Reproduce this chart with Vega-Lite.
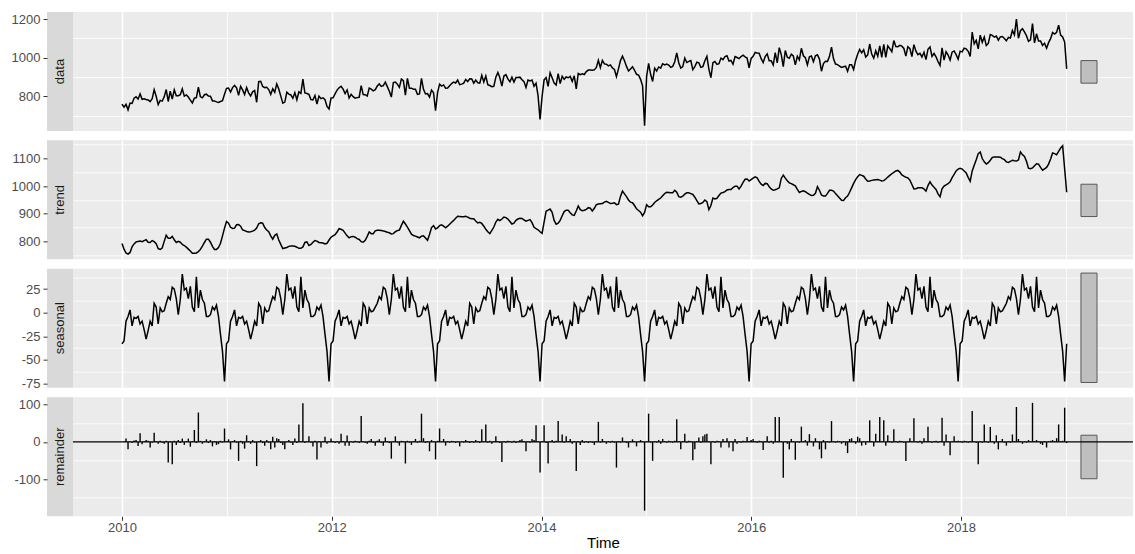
{
"$schema": "https://vega.github.io/schema/vega-lite/v6.json",
"background": "white",
"padding": {"left": 11, "top": 12, "right": 0, "bottom": 0},
"config": {"font": "Liberation Sans", "view": {"stroke": null}},
"spacing": 6.3,
"datasets": {
"bars": [
{"panel":"data","xmin":477.1,"xmax":485.1,"ymin":868,"ymax":985},
{"panel":"trend","xmin":477.1,"xmax":485.1,"ymin":890,"ymax":1007},
{"panel":"seasonal","xmin":477.1,"xmax":485.1,"ymin":-74,"ymax":42},
{"panel":"remainder","xmin":477.1,"xmax":485.1,"ymin":-99,"ymax":18}
],
"stl": [
{"week":0,"data":759,"trend":792,"seasonal":-33,"remainder":0},
{"week":1,"data":743,"trend":772,"seasonal":-30,"remainder":1},
{"week":2,"data":758,"trend":758,"seasonal":-9,"remainder":9},
{"week":3,"data":730,"trend":754,"seasonal":-4,"remainder":-20},
{"week":4,"data":765,"trend":760,"seasonal":3,"remainder":2},
{"week":5,"data":763,"trend":780,"seasonal":-14,"remainder":-3},
{"week":6,"data":790,"trend":791,"seasonal":-5,"remainder":4},
{"week":7,"data":797,"trend":798,"seasonal":-6,"remainder":5},
{"week":8,"data":785,"trend":800,"seasonal":-4,"remainder":-11},
{"week":9,"data":812,"trend":801,"seasonal":-12,"remainder":23},
{"week":10,"data":784,"trend":799,"seasonal":-9,"remainder":-6},
{"week":11,"data":787,"trend":803,"seasonal":-18,"remainder":2},
{"week":12,"data":783,"trend":806,"seasonal":-28,"remainder":5},
{"week":13,"data":781,"trend":797,"seasonal":-19,"remainder":3},
{"week":14,"data":772,"trend":796,"seasonal":-9,"remainder":-15},
{"week":15,"data":787,"trend":803,"seasonal":-14,"remainder":-2},
{"week":16,"data":834,"trend":799,"seasonal":10,"remainder":25},
{"week":17,"data":800,"trend":792,"seasonal":6,"remainder":2},
{"week":18,"data":757,"trend":774,"seasonal":-12,"remainder":-5},
{"week":19,"data":779,"trend":771,"seasonal":5,"remainder":3},
{"week":20,"data":775,"trend":776,"seasonal":1,"remainder":-2},
{"week":21,"data":797,"trend":800,"seasonal":2,"remainder":-5},
{"week":22,"data":835,"trend":822,"seasonal":10,"remainder":3},
{"week":23,"data":773,"trend":811,"seasonal":17,"remainder":-55},
{"week":24,"data":827,"trend":811,"seasonal":14,"remainder":2},
{"week":25,"data":785,"trend":818,"seasonal":27,"remainder":-60},
{"week":26,"data":834,"trend":806,"seasonal":25,"remainder":3},
{"week":27,"data":803,"trend":796,"seasonal":15,"remainder":-8},
{"week":28,"data":803,"trend":800,"seasonal":-2,"remainder":5},
{"week":29,"data":808,"trend":797,"seasonal":14,"remainder":-3},
{"week":30,"data":839,"trend":789,"seasonal":41,"remainder":9},
{"week":31,"data":801,"trend":785,"seasonal":24,"remainder":-8},
{"week":32,"data":807,"trend":779,"seasonal":26,"remainder":2},
{"week":33,"data":796,"trend":772,"seasonal":15,"remainder":9},
{"week":34,"data":780,"trend":765,"seasonal":28,"remainder":-13},
{"week":35,"data":765,"trend":757,"seasonal":6,"remainder":2},
{"week":36,"data":790,"trend":757,"seasonal":1,"remainder":32},
{"week":37,"data":793,"trend":758,"seasonal":38,"remainder":-3},
{"week":38,"data":847,"trend":763,"seasonal":5,"remainder":79},
{"week":39,"data":798,"trend":771,"seasonal":24,"remainder":3},
{"week":40,"data":792,"trend":783,"seasonal":14,"remainder":-5},
{"week":41,"data":808,"trend":796,"seasonal":10,"remainder":2},
{"week":42,"data":811,"trend":808,"seasonal":-4,"remainder":7},
{"week":43,"data":801,"trend":808,"seasonal":-4,"remainder":-3},
{"week":44,"data":800,"trend":797,"seasonal":-2,"remainder":5},
{"week":45,"data":776,"trend":782,"seasonal":6,"remainder":-12},
{"week":46,"data":776,"trend":771,"seasonal":3,"remainder":2},
{"week":47,"data":771,"trend":771,"seasonal":8,"remainder":-8},
{"week":48,"data":768,"trend":778,"seasonal":-4,"remainder":-6},
{"week":49,"data":773,"trend":793,"seasonal":-23,"remainder":3},
{"week":50,"data":777,"trend":820,"seasonal":-41,"remainder":-2},
{"week":51,"data":811,"trend":848,"seasonal":-73,"remainder":36},
{"week":52,"data":841,"trend":872,"seasonal":-33,"remainder":2},
{"week":53,"data":843,"trend":866,"seasonal":-30,"remainder":7},
{"week":54,"data":822,"trend":851,"seasonal":-9,"remainder":-20},
{"week":55,"data":845,"trend":847,"seasonal":-4,"remainder":2},
{"week":56,"data":856,"trend":848,"seasonal":3,"remainder":5},
{"week":57,"data":844,"trend":860,"seasonal":-14,"remainder":-2},
{"week":58,"data":805,"trend":861,"seasonal":-5,"remainder":-51},
{"week":59,"data":852,"trend":855,"seasonal":-6,"remainder":3},
{"week":60,"data":833,"trend":842,"seasonal":-4,"remainder":-5},
{"week":61,"data":809,"trend":839,"seasonal":-12,"remainder":-18},
{"week":62,"data":845,"trend":836,"seasonal":-9,"remainder":18},
{"week":63,"data":818,"trend":834,"seasonal":-18,"remainder":2},
{"week":64,"data":802,"trend":835,"seasonal":-28,"remainder":-5},
{"week":65,"data":823,"trend":837,"seasonal":-19,"remainder":5},
{"week":66,"data":830,"trend":841,"seasonal":-9,"remainder":-2},
{"week":67,"data":769,"trend":848,"seasonal":-14,"remainder":-65},
{"week":68,"data":876,"trend":864,"seasonal":10,"remainder":2},
{"week":69,"data":878,"trend":867,"seasonal":6,"remainder":5},
{"week":70,"data":851,"trend":866,"seasonal":-12,"remainder":-3},
{"week":71,"data":845,"trend":850,"seasonal":5,"remainder":-10},
{"week":72,"data":847,"trend":841,"seasonal":1,"remainder":5},
{"week":73,"data":835,"trend":835,"seasonal":2,"remainder":-2},
{"week":74,"data":810,"trend":820,"seasonal":10,"remainder":-20},
{"week":75,"data":839,"trend":808,"seasonal":17,"remainder":14},
{"week":76,"data":821,"trend":822,"seasonal":14,"remainder":-15},
{"week":77,"data":864,"trend":827,"seasonal":27,"remainder":10},
{"week":78,"data":838,"trend":805,"seasonal":25,"remainder":8},
{"week":79,"data":801,"trend":789,"seasonal":15,"remainder":-3},
{"week":80,"data":764,"trend":774,"seasonal":-2,"remainder":-8},
{"week":81,"data":770,"trend":776,"seasonal":14,"remainder":-20},
{"week":82,"data":821,"trend":778,"seasonal":41,"remainder":2},
{"week":83,"data":811,"trend":782,"seasonal":24,"remainder":5},
{"week":84,"data":807,"trend":783,"seasonal":26,"remainder":-2},
{"week":85,"data":790,"trend":783,"seasonal":15,"remainder":-8},
{"week":86,"data":819,"trend":782,"seasonal":28,"remainder":9},
{"week":87,"data":782,"trend":779,"seasonal":6,"remainder":-3},
{"week":88,"data":823,"trend":775,"seasonal":1,"remainder":47},
{"week":89,"data":815,"trend":775,"seasonal":38,"remainder":2},
{"week":90,"data":889,"trend":780,"seasonal":5,"remainder":104},
{"week":91,"data":817,"trend":796,"seasonal":24,"remainder":-3},
{"week":92,"data":814,"trend":798,"seasonal":14,"remainder":2},
{"week":93,"data":810,"trend":785,"seasonal":10,"remainder":15},
{"week":94,"data":783,"trend":789,"seasonal":-4,"remainder":-2},
{"week":95,"data":781,"trend":797,"seasonal":-4,"remainder":-12},
{"week":96,"data":804,"trend":803,"seasonal":-2,"remainder":3},
{"week":97,"data":760,"trend":801,"seasonal":6,"remainder":-47},
{"week":98,"data":801,"trend":796,"seasonal":3,"remainder":2},
{"week":99,"data":788,"trend":795,"seasonal":8,"remainder":-15},
{"week":100,"data":792,"trend":794,"seasonal":-4,"remainder":2},
{"week":101,"data":782,"trend":791,"seasonal":-23,"remainder":14},
{"week":102,"data":747,"trend":793,"seasonal":-41,"remainder":-5},
{"week":103,"data":734,"trend":805,"seasonal":-73,"remainder":2},
{"week":104,"data":791,"trend":815,"seasonal":-33,"remainder":9},
{"week":105,"data":792,"trend":820,"seasonal":-30,"remainder":2},
{"week":106,"data":812,"trend":824,"seasonal":-9,"remainder":-3},
{"week":107,"data":832,"trend":834,"seasonal":-4,"remainder":2},
{"week":108,"data":844,"trend":846,"seasonal":3,"remainder":-5},
{"week":109,"data":852,"trend":844,"seasonal":-14,"remainder":22},
{"week":110,"data":837,"trend":840,"seasonal":-5,"remainder":2},
{"week":111,"data":814,"trend":830,"seasonal":-6,"remainder":-10},
{"week":112,"data":833,"trend":820,"seasonal":-4,"remainder":17},
{"week":113,"data":791,"trend":813,"seasonal":-12,"remainder":-10},
{"week":114,"data":810,"trend":817,"seasonal":-9,"remainder":2},
{"week":115,"data":798,"trend":818,"seasonal":-18,"remainder":-2},
{"week":116,"data":790,"trend":815,"seasonal":-28,"remainder":3},
{"week":117,"data":793,"trend":810,"seasonal":-19,"remainder":2},
{"week":118,"data":795,"trend":807,"seasonal":-9,"remainder":-3},
{"week":119,"data":855,"trend":799,"seasonal":-14,"remainder":70},
{"week":120,"data":809,"trend":797,"seasonal":10,"remainder":2},
{"week":121,"data":808,"trend":804,"seasonal":6,"remainder":-2},
{"week":122,"data":801,"trend":818,"seasonal":-12,"remainder":-5},
{"week":123,"data":842,"trend":834,"seasonal":5,"remainder":3},
{"week":124,"data":837,"trend":828,"seasonal":1,"remainder":8},
{"week":125,"data":828,"trend":828,"seasonal":2,"remainder":-2},
{"week":126,"data":834,"trend":838,"seasonal":6,"remainder":-10},
{"week":127,"data":853,"trend":840,"seasonal":10,"remainder":3},
{"week":128,"data":864,"trend":840,"seasonal":17,"remainder":7},
{"week":129,"data":851,"trend":839,"seasonal":14,"remainder":-2},
{"week":130,"data":855,"trend":838,"seasonal":27,"remainder":-10},
{"week":131,"data":873,"trend":836,"seasonal":25,"remainder":12},
{"week":132,"data":850,"trend":833,"seasonal":15,"remainder":2},
{"week":133,"data":826,"trend":831,"seasonal":-2,"remainder":-3},
{"week":134,"data":796,"trend":827,"seasonal":14,"remainder":-45},
{"week":135,"data":871,"trend":828,"seasonal":41,"remainder":2},
{"week":136,"data":874,"trend":835,"seasonal":24,"remainder":15},
{"week":137,"data":863,"trend":839,"seasonal":26,"remainder":-2},
{"week":138,"data":846,"trend":841,"seasonal":15,"remainder":-10},
{"week":139,"data":889,"trend":858,"seasonal":28,"remainder":3},
{"week":140,"data":881,"trend":873,"seasonal":6,"remainder":2},
{"week":141,"data":806,"trend":863,"seasonal":1,"remainder":-58},
{"week":142,"data":893,"trend":852,"seasonal":38,"remainder":3},
{"week":143,"data":842,"trend":839,"seasonal":5,"remainder":-2},
{"week":144,"data":842,"trend":826,"seasonal":24,"remainder":-8},
{"week":145,"data":837,"trend":821,"seasonal":14,"remainder":2},
{"week":146,"data":837,"trend":819,"seasonal":10,"remainder":8},
{"week":147,"data":810,"trend":816,"seasonal":-4,"remainder":-2},
{"week":148,"data":812,"trend":813,"seasonal":-4,"remainder":3},
{"week":149,"data":893,"trend":819,"seasonal":-2,"remainder":76},
{"week":150,"data":836,"trend":820,"seasonal":6,"remainder":10},
{"week":151,"data":812,"trend":812,"seasonal":3,"remainder":-3},
{"week":152,"data":814,"trend":804,"seasonal":8,"remainder":2},
{"week":153,"data":796,"trend":825,"seasonal":-4,"remainder":-25},
{"week":154,"data":832,"trend":850,"seasonal":-23,"remainder":5},
{"week":155,"data":818,"trend":857,"seasonal":-41,"remainder":2},
{"week":156,"data":725,"trend":845,"seasonal":-73,"remainder":-47},
{"week":157,"data":819,"trend":849,"seasonal":-33,"remainder":3},
{"week":158,"data":863,"trend":857,"seasonal":-30,"remainder":36},
{"week":159,"data":853,"trend":860,"seasonal":-9,"remainder":2},
{"week":160,"data":859,"trend":855,"seasonal":-4,"remainder":8},
{"week":161,"data":842,"trend":849,"seasonal":3,"remainder":-10},
{"week":162,"data":843,"trend":855,"seasonal":-14,"remainder":2},
{"week":163,"data":855,"trend":862,"seasonal":-5,"remainder":-2},
{"week":164,"data":866,"trend":869,"seasonal":-6,"remainder":3},
{"week":165,"data":874,"trend":876,"seasonal":-4,"remainder":2},
{"week":166,"data":869,"trend":884,"seasonal":-12,"remainder":-3},
{"week":167,"data":884,"trend":891,"seasonal":-9,"remainder":2},
{"week":168,"data":860,"trend":890,"seasonal":-18,"remainder":-12},
{"week":169,"data":863,"trend":889,"seasonal":-28,"remainder":2},
{"week":170,"data":868,"trend":889,"seasonal":-19,"remainder":-2},
{"week":171,"data":887,"trend":891,"seasonal":-9,"remainder":5},
{"week":172,"data":876,"trend":888,"seasonal":-14,"remainder":2},
{"week":173,"data":891,"trend":884,"seasonal":10,"remainder":-3},
{"week":174,"data":890,"trend":882,"seasonal":6,"remainder":2},
{"week":175,"data":868,"trend":882,"seasonal":-12,"remainder":-2},
{"week":176,"data":884,"trend":874,"seasonal":5,"remainder":5},
{"week":177,"data":870,"trend":867,"seasonal":1,"remainder":2},
{"week":178,"data":868,"trend":869,"seasonal":2,"remainder":-3},
{"week":179,"data":909,"trend":865,"seasonal":10,"remainder":34},
{"week":180,"data":874,"trend":855,"seasonal":17,"remainder":2},
{"week":181,"data":905,"trend":844,"seasonal":14,"remainder":47},
{"week":182,"data":860,"trend":835,"seasonal":27,"remainder":-2},
{"week":183,"data":856,"trend":828,"seasonal":25,"remainder":3},
{"week":184,"data":850,"trend":840,"seasonal":15,"remainder":-5},
{"week":185,"data":852,"trend":852,"seasonal":-2,"remainder":2},
{"week":186,"data":899,"trend":870,"seasonal":14,"remainder":15},
{"week":187,"data":923,"trend":880,"seasonal":41,"remainder":2},
{"week":188,"data":896,"trend":875,"seasonal":24,"remainder":-3},
{"week":189,"data":853,"trend":881,"seasonal":26,"remainder":-54},
{"week":190,"data":905,"trend":888,"seasonal":15,"remainder":2},
{"week":191,"data":912,"trend":886,"seasonal":28,"remainder":-2},
{"week":192,"data":890,"trend":881,"seasonal":6,"remainder":3},
{"week":193,"data":875,"trend":872,"seasonal":1,"remainder":2},
{"week":194,"data":899,"trend":863,"seasonal":38,"remainder":-2},
{"week":195,"data":874,"trend":866,"seasonal":5,"remainder":3},
{"week":196,"data":897,"trend":876,"seasonal":24,"remainder":-3},
{"week":197,"data":897,"trend":881,"seasonal":14,"remainder":2},
{"week":198,"data":899,"trend":884,"seasonal":10,"remainder":5},
{"week":199,"data":886,"trend":883,"seasonal":-4,"remainder":7},
{"week":200,"data":876,"trend":878,"seasonal":-4,"remainder":2},
{"week":201,"data":846,"trend":873,"seasonal":-2,"remainder":-25},
{"week":202,"data":884,"trend":876,"seasonal":6,"remainder":2},
{"week":203,"data":880,"trend":879,"seasonal":3,"remainder":-2},
{"week":204,"data":884,"trend":868,"seasonal":8,"remainder":8},
{"week":205,"data":852,"trend":851,"seasonal":-4,"remainder":5},
{"week":206,"data":868,"trend":846,"seasonal":-23,"remainder":45},
{"week":207,"data":803,"trend":842,"seasonal":-41,"remainder":2},
{"week":208,"data":680,"trend":835,"seasonal":-73,"remainder":-82},
{"week":209,"data":798,"trend":829,"seasonal":-33,"remainder":2},
{"week":210,"data":885,"trend":870,"seasonal":-30,"remainder":45},
{"week":211,"data":897,"trend":909,"seasonal":-9,"remainder":-3},
{"week":212,"data":851,"trend":913,"seasonal":-4,"remainder":-58},
{"week":213,"data":922,"trend":917,"seasonal":3,"remainder":2},
{"week":214,"data":896,"trend":905,"seasonal":-14,"remainder":5},
{"week":215,"data":869,"trend":876,"seasonal":-5,"remainder":-2},
{"week":216,"data":859,"trend":862,"seasonal":-6,"remainder":3},
{"week":217,"data":918,"trend":866,"seasonal":-4,"remainder":56},
{"week":218,"data":866,"trend":876,"seasonal":-12,"remainder":2},
{"week":219,"data":904,"trend":893,"seasonal":-9,"remainder":20},
{"week":220,"data":888,"trend":908,"seasonal":-18,"remainder":-2},
{"week":221,"data":900,"trend":913,"seasonal":-28,"remainder":15},
{"week":222,"data":896,"trend":913,"seasonal":-19,"remainder":2},
{"week":223,"data":903,"trend":904,"seasonal":-9,"remainder":8},
{"week":224,"data":877,"trend":896,"seasonal":-14,"remainder":-5},
{"week":225,"data":906,"trend":894,"seasonal":10,"remainder":2},
{"week":226,"data":838,"trend":910,"seasonal":6,"remainder":-78},
{"week":227,"data":918,"trend":928,"seasonal":-12,"remainder":2},
{"week":228,"data":912,"trend":915,"seasonal":5,"remainder":-8},
{"week":229,"data":917,"trend":911,"seasonal":1,"remainder":5},
{"week":230,"data":913,"trend":913,"seasonal":2,"remainder":-2},
{"week":231,"data":928,"trend":916,"seasonal":10,"remainder":2},
{"week":232,"data":936,"trend":922,"seasonal":17,"remainder":-3},
{"week":233,"data":936,"trend":920,"seasonal":14,"remainder":2},
{"week":234,"data":935,"trend":910,"seasonal":27,"remainder":-2},
{"week":235,"data":937,"trend":920,"seasonal":25,"remainder":-8},
{"week":236,"data":950,"trend":933,"seasonal":15,"remainder":2},
{"week":237,"data":987,"trend":935,"seasonal":-2,"remainder":54},
{"week":238,"data":948,"trend":936,"seasonal":14,"remainder":-2},
{"week":239,"data":986,"trend":937,"seasonal":41,"remainder":8},
{"week":240,"data":968,"trend":942,"seasonal":24,"remainder":2},
{"week":241,"data":966,"trend":945,"seasonal":26,"remainder":-5},
{"week":242,"data":958,"trend":941,"seasonal":15,"remainder":2},
{"week":243,"data":963,"trend":937,"seasonal":28,"remainder":-2},
{"week":244,"data":947,"trend":938,"seasonal":6,"remainder":3},
{"week":245,"data":939,"trend":940,"seasonal":1,"remainder":-2},
{"week":246,"data":902,"trend":933,"seasonal":38,"remainder":-69},
{"week":247,"data":942,"trend":935,"seasonal":5,"remainder":2},
{"week":248,"data":985,"trend":963,"seasonal":24,"remainder":-2},
{"week":249,"data":1008,"trend":982,"seasonal":14,"remainder":12},
{"week":250,"data":984,"trend":972,"seasonal":10,"remainder":2},
{"week":251,"data":955,"trend":962,"seasonal":-4,"remainder":-3},
{"week":252,"data":931,"trend":950,"seasonal":-4,"remainder":-15},
{"week":253,"data":942,"trend":942,"seasonal":-2,"remainder":2},
{"week":254,"data":953,"trend":940,"seasonal":6,"remainder":7},
{"week":255,"data":935,"trend":930,"seasonal":3,"remainder":2},
{"week":256,"data":914,"trend":918,"seasonal":8,"remainder":-12},
{"week":257,"data":910,"trend":912,"seasonal":-4,"remainder":2},
{"week":258,"data":888,"trend":906,"seasonal":-23,"remainder":5},
{"week":259,"data":854,"trend":893,"seasonal":-41,"remainder":2},
{"week":260,"data":647,"trend":905,"seasonal":-73,"remainder":-185},
{"week":261,"data":902,"trend":933,"seasonal":-33,"remainder":2},
{"week":262,"data":971,"trend":925,"seasonal":-30,"remainder":76},
{"week":263,"data":914,"trend":925,"seasonal":-9,"remainder":-2},
{"week":264,"data":877,"trend":932,"seasonal":-4,"remainder":-51},
{"week":265,"data":946,"trend":941,"seasonal":3,"remainder":2},
{"week":266,"data":931,"trend":947,"seasonal":-14,"remainder":-2},
{"week":267,"data":952,"trend":952,"seasonal":-5,"remainder":5},
{"week":268,"data":946,"trend":957,"seasonal":-6,"remainder":-5},
{"week":269,"data":969,"trend":965,"seasonal":-4,"remainder":8},
{"week":270,"data":963,"trend":973,"seasonal":-12,"remainder":2},
{"week":271,"data":967,"trend":978,"seasonal":-9,"remainder":-2},
{"week":272,"data":962,"trend":977,"seasonal":-18,"remainder":3},
{"week":273,"data":950,"trend":976,"seasonal":-28,"remainder":2},
{"week":274,"data":955,"trend":976,"seasonal":-19,"remainder":-2},
{"week":275,"data":979,"trend":985,"seasonal":-9,"remainder":3},
{"week":276,"data":1025,"trend":978,"seasonal":-14,"remainder":61},
{"week":277,"data":974,"trend":962,"seasonal":10,"remainder":2},
{"week":278,"data":946,"trend":960,"seasonal":6,"remainder":-20},
{"week":279,"data":954,"trend":964,"seasonal":-12,"remainder":2},
{"week":280,"data":998,"trend":971,"seasonal":5,"remainder":22},
{"week":281,"data":975,"trend":976,"seasonal":1,"remainder":-2},
{"week":282,"data":981,"trend":976,"seasonal":2,"remainder":3},
{"week":283,"data":985,"trend":973,"seasonal":10,"remainder":2},
{"week":284,"data":938,"trend":970,"seasonal":17,"remainder":-49},
{"week":285,"data":954,"trend":960,"seasonal":14,"remainder":-20},
{"week":286,"data":977,"trend":948,"seasonal":27,"remainder":2},
{"week":287,"data":973,"trend":936,"seasonal":25,"remainder":12},
{"week":288,"data":950,"trend":937,"seasonal":15,"remainder":-2},
{"week":289,"data":954,"trend":941,"seasonal":-2,"remainder":15},
{"week":290,"data":984,"trend":950,"seasonal":14,"remainder":20},
{"week":291,"data":1007,"trend":944,"seasonal":41,"remainder":22},
{"week":292,"data":941,"trend":915,"seasonal":24,"remainder":2},
{"week":293,"data":896,"trend":930,"seasonal":26,"remainder":-60},
{"week":294,"data":974,"trend":957,"seasonal":15,"remainder":2},
{"week":295,"data":980,"trend":954,"seasonal":28,"remainder":-2},
{"week":296,"data":965,"trend":956,"seasonal":6,"remainder":3},
{"week":297,"data":969,"trend":966,"seasonal":1,"remainder":2},
{"week":298,"data":998,"trend":975,"seasonal":38,"remainder":-15},
{"week":299,"data":990,"trend":977,"seasonal":5,"remainder":8},
{"week":300,"data":1006,"trend":980,"seasonal":24,"remainder":2},
{"week":301,"data":1010,"trend":986,"seasonal":14,"remainder":10},
{"week":302,"data":983,"trend":988,"seasonal":10,"remainder":-15},
{"week":303,"data":986,"trend":988,"seasonal":-4,"remainder":2},
{"week":304,"data":966,"trend":995,"seasonal":-4,"remainder":-25},
{"week":305,"data":1006,"trend":1000,"seasonal":-2,"remainder":8},
{"week":306,"data":1001,"trend":1000,"seasonal":6,"remainder":-5},
{"week":307,"data":995,"trend":990,"seasonal":3,"remainder":2},
{"week":308,"data":1006,"trend":1000,"seasonal":8,"remainder":-2},
{"week":309,"data":1013,"trend":1014,"seasonal":-4,"remainder":3},
{"week":310,"data":1004,"trend":1025,"seasonal":-23,"remainder":2},
{"week":311,"data":998,"trend":1026,"seasonal":-41,"remainder":13},
{"week":312,"data":948,"trend":1019,"seasonal":-73,"remainder":2},
{"week":313,"data":996,"trend":1024,"seasonal":-33,"remainder":5},
{"week":314,"data":1007,"trend":1029,"seasonal":-30,"remainder":8},
{"week":315,"data":1027,"trend":1034,"seasonal":-9,"remainder":2},
{"week":316,"data":1024,"trend":1030,"seasonal":-4,"remainder":-2},
{"week":317,"data":1023,"trend":1017,"seasonal":3,"remainder":3},
{"week":318,"data":995,"trend":1007,"seasonal":-14,"remainder":2},
{"week":319,"data":975,"trend":1002,"seasonal":-5,"remainder":-22},
{"week":320,"data":1006,"trend":1010,"seasonal":-6,"remainder":2},
{"week":321,"data":1020,"trend":1009,"seasonal":-4,"remainder":15},
{"week":322,"data":984,"trend":998,"seasonal":-12,"remainder":-2},
{"week":323,"data":984,"trend":990,"seasonal":-9,"remainder":3},
{"week":324,"data":962,"trend":985,"seasonal":-18,"remainder":-5},
{"week":325,"data":1026,"trend":987,"seasonal":-28,"remainder":67},
{"week":326,"data":973,"trend":990,"seasonal":-19,"remainder":2},
{"week":327,"data":1052,"trend":994,"seasonal":-9,"remainder":67},
{"week":328,"data":1016,"trend":1028,"seasonal":-14,"remainder":2},
{"week":329,"data":954,"trend":1040,"seasonal":10,"remainder":-96},
{"week":330,"data":1037,"trend":1029,"seasonal":6,"remainder":2},
{"week":331,"data":1003,"trend":1020,"seasonal":-12,"remainder":-5},
{"week":332,"data":997,"trend":1012,"seasonal":5,"remainder":-20},
{"week":333,"data":1018,"trend":1009,"seasonal":1,"remainder":8},
{"week":334,"data":1009,"trend":1005,"seasonal":2,"remainder":2},
{"week":335,"data":963,"trend":1001,"seasonal":10,"remainder":-48},
{"week":336,"data":1007,"trend":988,"seasonal":17,"remainder":2},
{"week":337,"data":989,"trend":977,"seasonal":14,"remainder":-2},
{"week":338,"data":1049,"trend":981,"seasonal":27,"remainder":41},
{"week":339,"data":1010,"trend":983,"seasonal":25,"remainder":2},
{"week":340,"data":1000,"trend":980,"seasonal":15,"remainder":5},
{"week":341,"data":963,"trend":975,"seasonal":-2,"remainder":-10},
{"week":342,"data":1005,"trend":970,"seasonal":14,"remainder":21},
{"week":343,"data":1009,"trend":966,"seasonal":41,"remainder":2},
{"week":344,"data":979,"trend":967,"seasonal":24,"remainder":-12},
{"week":345,"data":1010,"trend":974,"seasonal":26,"remainder":10},
{"week":346,"data":1015,"trend":998,"seasonal":15,"remainder":2},
{"week":347,"data":993,"trend":985,"seasonal":28,"remainder":-20},
{"week":348,"data":930,"trend":968,"seasonal":6,"remainder":-44},
{"week":349,"data":970,"trend":964,"seasonal":1,"remainder":5},
{"week":350,"data":982,"trend":964,"seasonal":38,"remainder":-20},
{"week":351,"data":981,"trend":974,"seasonal":5,"remainder":2},
{"week":352,"data":1007,"trend":985,"seasonal":24,"remainder":-2},
{"week":353,"data":1055,"trend":985,"seasonal":14,"remainder":56},
{"week":354,"data":994,"trend":982,"seasonal":10,"remainder":2},
{"week":355,"data":967,"trend":973,"seasonal":-4,"remainder":-2},
{"week":356,"data":964,"trend":965,"seasonal":-4,"remainder":3},
{"week":357,"data":957,"trend":957,"seasonal":-2,"remainder":2},
{"week":358,"data":950,"trend":949,"seasonal":6,"remainder":-5},
{"week":359,"data":953,"trend":948,"seasonal":3,"remainder":2},
{"week":360,"data":956,"trend":958,"seasonal":8,"remainder":-10},
{"week":361,"data":930,"trend":964,"seasonal":-4,"remainder":-30},
{"week":362,"data":963,"trend":978,"seasonal":-23,"remainder":8},
{"week":363,"data":963,"trend":994,"seasonal":-41,"remainder":10},
{"week":364,"data":939,"trend":1010,"seasonal":-73,"remainder":2},
{"week":365,"data":986,"trend":1024,"seasonal":-33,"remainder":-5},
{"week":366,"data":1018,"trend":1034,"seasonal":-30,"remainder":14},
{"week":367,"data":1043,"trend":1042,"seasonal":-9,"remainder":10},
{"week":368,"data":1025,"trend":1039,"seasonal":-4,"remainder":-10},
{"week":369,"data":1041,"trend":1036,"seasonal":3,"remainder":2},
{"week":370,"data":1004,"trend":1026,"seasonal":-14,"remainder":-8},
{"week":371,"data":1015,"trend":1018,"seasonal":-5,"remainder":2},
{"week":372,"data":1071,"trend":1019,"seasonal":-6,"remainder":58},
{"week":373,"data":1019,"trend":1021,"seasonal":-4,"remainder":2},
{"week":374,"data":998,"trend":1022,"seasonal":-12,"remainder":-12},
{"week":375,"data":1036,"trend":1023,"seasonal":-9,"remainder":22},
{"week":376,"data":1008,"trend":1024,"seasonal":-18,"remainder":2},
{"week":377,"data":1061,"trend":1022,"seasonal":-28,"remainder":67},
{"week":378,"data":1002,"trend":1019,"seasonal":-19,"remainder":2},
{"week":379,"data":1069,"trend":1020,"seasonal":-9,"remainder":58},
{"week":380,"data":1002,"trend":1026,"seasonal":-14,"remainder":-10},
{"week":381,"data":1061,"trend":1033,"seasonal":10,"remainder":18},
{"week":382,"data":1047,"trend":1039,"seasonal":6,"remainder":2},
{"week":383,"data":1031,"trend":1045,"seasonal":-12,"remainder":-2},
{"week":384,"data":1089,"trend":1050,"seasonal":5,"remainder":34},
{"week":385,"data":1058,"trend":1055,"seasonal":1,"remainder":2},
{"week":386,"data":1057,"trend":1057,"seasonal":2,"remainder":-2},
{"week":387,"data":1064,"trend":1051,"seasonal":10,"remainder":3},
{"week":388,"data":1060,"trend":1041,"seasonal":17,"remainder":2},
{"week":389,"data":1048,"trend":1036,"seasonal":14,"remainder":-2},
{"week":390,"data":1008,"trend":1032,"seasonal":27,"remainder":-51},
{"week":391,"data":1057,"trend":1030,"seasonal":25,"remainder":2},
{"week":392,"data":1047,"trend":1022,"seasonal":15,"remainder":10},
{"week":393,"data":1006,"trend":1006,"seasonal":-2,"remainder":2},
{"week":394,"data":1068,"trend":990,"seasonal":14,"remainder":64},
{"week":395,"data":1034,"trend":991,"seasonal":41,"remainder":2},
{"week":396,"data":1016,"trend":994,"seasonal":24,"remainder":-2},
{"week":397,"data":1023,"trend":994,"seasonal":26,"remainder":3},
{"week":398,"data":1004,"trend":994,"seasonal":15,"remainder":-5},
{"week":399,"data":1028,"trend":990,"seasonal":28,"remainder":10},
{"week":400,"data":990,"trend":982,"seasonal":6,"remainder":2},
{"week":401,"data":1044,"trend":1002,"seasonal":1,"remainder":41},
{"week":402,"data":1056,"trend":1016,"seasonal":38,"remainder":2},
{"week":403,"data":1007,"trend":1004,"seasonal":5,"remainder":-2},
{"week":404,"data":1022,"trend":996,"seasonal":24,"remainder":2},
{"week":405,"data":1005,"trend":988,"seasonal":14,"remainder":3},
{"week":406,"data":980,"trend":972,"seasonal":10,"remainder":-2},
{"week":407,"data":960,"trend":962,"seasonal":-4,"remainder":2},
{"week":408,"data":1051,"trend":990,"seasonal":-4,"remainder":65},
{"week":409,"data":988,"trend":1000,"seasonal":-2,"remainder":-10},
{"week":410,"data":1031,"trend":1005,"seasonal":6,"remainder":20},
{"week":411,"data":1014,"trend":1009,"seasonal":3,"remainder":2},
{"week":412,"data":988,"trend":1016,"seasonal":8,"remainder":-36},
{"week":413,"data":1029,"trend":1031,"seasonal":-4,"remainder":2},
{"week":414,"data":1035,"trend":1043,"seasonal":-23,"remainder":15},
{"week":415,"data":1016,"trend":1055,"seasonal":-41,"remainder":2},
{"week":416,"data":992,"trend":1062,"seasonal":-73,"remainder":3},
{"week":417,"data":1034,"trend":1065,"seasonal":-33,"remainder":2},
{"week":418,"data":1030,"trend":1062,"seasonal":-30,"remainder":-2},
{"week":419,"data":1049,"trend":1055,"seasonal":-9,"remainder":3},
{"week":420,"data":1046,"trend":1048,"seasonal":-4,"remainder":2},
{"week":421,"data":1033,"trend":1032,"seasonal":3,"remainder":-2},
{"week":422,"data":1006,"trend":1018,"seasonal":-14,"remainder":2},
{"week":423,"data":1133,"trend":1055,"seasonal":-5,"remainder":83},
{"week":424,"data":1072,"trend":1076,"seasonal":-6,"remainder":2},
{"week":425,"data":1090,"trend":1096,"seasonal":-4,"remainder":-2},
{"week":426,"data":1046,"trend":1118,"seasonal":-12,"remainder":-60},
{"week":427,"data":1117,"trend":1124,"seasonal":-9,"remainder":2},
{"week":428,"data":1080,"trend":1100,"seasonal":-18,"remainder":-2},
{"week":429,"data":1107,"trend":1088,"seasonal":-28,"remainder":47},
{"week":430,"data":1063,"trend":1080,"seasonal":-19,"remainder":2},
{"week":431,"data":1074,"trend":1085,"seasonal":-9,"remainder":-2},
{"week":432,"data":1120,"trend":1094,"seasonal":-14,"remainder":40},
{"week":433,"data":1116,"trend":1104,"seasonal":10,"remainder":2},
{"week":434,"data":1107,"trend":1106,"seasonal":6,"remainder":-5},
{"week":435,"data":1112,"trend":1106,"seasonal":-12,"remainder":18},
{"week":436,"data":1091,"trend":1106,"seasonal":5,"remainder":-20},
{"week":437,"data":1108,"trend":1105,"seasonal":1,"remainder":2},
{"week":438,"data":1110,"trend":1100,"seasonal":2,"remainder":8},
{"week":439,"data":1100,"trend":1096,"seasonal":6,"remainder":-2},
{"week":440,"data":1088,"trend":1088,"seasonal":10,"remainder":-10},
{"week":441,"data":1105,"trend":1086,"seasonal":17,"remainder":2},
{"week":442,"data":1102,"trend":1090,"seasonal":14,"remainder":-2},
{"week":443,"data":1141,"trend":1094,"seasonal":27,"remainder":20},
{"week":444,"data":1119,"trend":1092,"seasonal":25,"remainder":2},
{"week":445,"data":1200,"trend":1091,"seasonal":15,"remainder":94},
{"week":446,"data":1101,"trend":1095,"seasonal":-2,"remainder":8},
{"week":447,"data":1140,"trend":1124,"seasonal":14,"remainder":2},
{"week":448,"data":1150,"trend":1114,"seasonal":41,"remainder":-5},
{"week":449,"data":1134,"trend":1108,"seasonal":24,"remainder":2},
{"week":450,"data":1114,"trend":1090,"seasonal":26,"remainder":-2},
{"week":451,"data":1085,"trend":1065,"seasonal":15,"remainder":5},
{"week":452,"data":1093,"trend":1063,"seasonal":28,"remainder":2},
{"week":453,"data":1177,"trend":1066,"seasonal":6,"remainder":105},
{"week":454,"data":1077,"trend":1074,"seasonal":1,"remainder":2},
{"week":455,"data":1124,"trend":1081,"seasonal":38,"remainder":5},
{"week":456,"data":1087,"trend":1080,"seasonal":5,"remainder":2},
{"week":457,"data":1087,"trend":1068,"seasonal":24,"remainder":-5},
{"week":458,"data":1064,"trend":1058,"seasonal":14,"remainder":-8},
{"week":459,"data":1075,"trend":1063,"seasonal":10,"remainder":2},
{"week":460,"data":1049,"trend":1068,"seasonal":-4,"remainder":-15},
{"week":461,"data":1078,"trend":1080,"seasonal":-4,"remainder":2},
{"week":462,"data":1099,"trend":1098,"seasonal":-2,"remainder":3},
{"week":463,"data":1131,"trend":1120,"seasonal":6,"remainder":5},
{"week":464,"data":1123,"trend":1118,"seasonal":3,"remainder":2},
{"week":465,"data":1132,"trend":1114,"seasonal":8,"remainder":10},
{"week":466,"data":1169,"trend":1126,"seasonal":-4,"remainder":47},
{"week":467,"data":1117,"trend":1138,"seasonal":-23,"remainder":2},
{"week":468,"data":1108,"trend":1146,"seasonal":-41,"remainder":3},
{"week":469,"data":1081,"trend":1062,"seasonal":-73,"remainder":92},
{"week":470,"data":942,"trend":978,"seasonal":-33,"remainder":-3}
]
},
"vconcat": [
{"vconcat": [
{"hconcat": [
 {"width": 26, "height": 119, "view": {"fill": "#D9D9D9", "stroke": null}, "data": {"values": [{"label": "data"}]},
  "mark": {"type": "text", "angle": 270, "fontSize": 13, "color": "#1A1A1A"}, "encoding": {"text": {"field": "label", "type": "nominal"}}},
 {"width": 1060, "height": 119, "view": {"fill": "#EBEBEB", "stroke": null},
  "resolve": {"axis": {"y": "independent"}},
  "layer": [
   {"data": {"name": "bars"}, "transform": [{"filter": "datum.panel == 'data'"}],
    "mark": {"type": "rect", "fill": "#BFBFBF", "stroke": "#595959", "strokeWidth": 1},
    "encoding": {"x": {"field": "xmin", "type": "quantitative"}, "x2": {"field": "xmax"},
     "y": {"field": "ymin", "type": "quantitative", "axis": {"orient": "left", "title": null, "values": [700, 900, 1100], "labels": false, "ticks": false, "domain": false, "gridColor": "#FFFFFF", "gridWidth": 0.8}},
     "y2": {"field": "ymax"}}},
   {"data": {"name": "stl"}, "mark": {"type": "line", "color": "#000000", "strokeWidth": 1.5},
    "encoding": {
     "x": {"field": "week", "type": "quantitative", "scale": {"domain": [-24.38, 503.0], "nice": false, "zero": false},
      "axis": {"title": null, "values": [0, 52.1786, 104.3571, 156.5357, 208.7143, 260.8929, 313.0714, 365.25, 417.4286, 469.6071], "labels": false, "ticks": false, "domain": false, "gridColor": "#FFFFFF", "gridWidth": {"condition": {"test": "round(datum.value / 52.1786) % 2 == 0", "value": 1.6}, "value": 0.8}}},
     "y": {"field": "data", "type": "quantitative", "scale": {"domain": [620, 1237], "nice": false, "zero": false},
      "axis": {"orient": "left", "title": null, "values": [800, 1000, 1200], "labelExpr": "'' + datum.value", "offset": 26, "domain": false, "tickSize": 4, "tickColor": "#333333", "gridColor": "#FFFFFF", "gridWidth": 1.6, "labelFontSize": 13, "labelColor": "#4D4D4D", "labelPadding": 3, "labelOverlap": false, "labelFlush": false}}
    }}
  ]}
 ], "spacing": 0, "bounds": "flush"},
{"hconcat": [
 {"width": 26, "height": 119, "view": {"fill": "#D9D9D9", "stroke": null}, "data": {"values": [{"label": "trend"}]},
  "mark": {"type": "text", "angle": 270, "fontSize": 13, "color": "#1A1A1A"}, "encoding": {"text": {"field": "label", "type": "nominal"}}},
 {"width": 1060, "height": 119, "view": {"fill": "#EBEBEB", "stroke": null},
  "resolve": {"axis": {"y": "independent"}},
  "layer": [
   {"data": {"name": "bars"}, "transform": [{"filter": "datum.panel == 'trend'"}],
    "mark": {"type": "rect", "fill": "#BFBFBF", "stroke": "#595959", "strokeWidth": 1},
    "encoding": {"x": {"field": "xmin", "type": "quantitative"}, "x2": {"field": "xmax"},
     "y": {"field": "ymin", "type": "quantitative", "axis": {"orient": "left", "title": null, "values": [750, 850, 950, 1050, 1150], "labels": false, "ticks": false, "domain": false, "gridColor": "#FFFFFF", "gridWidth": 0.8}},
     "y2": {"field": "ymax"}}},
   {"data": {"name": "stl"}, "mark": {"type": "line", "color": "#000000", "strokeWidth": 1.5},
    "encoding": {
     "x": {"field": "week", "type": "quantitative", "scale": {"domain": [-24.38, 503.0], "nice": false, "zero": false},
      "axis": {"title": null, "values": [0, 52.1786, 104.3571, 156.5357, 208.7143, 260.8929, 313.0714, 365.25, 417.4286, 469.6071], "labels": false, "ticks": false, "domain": false, "gridColor": "#FFFFFF", "gridWidth": {"condition": {"test": "round(datum.value / 52.1786) % 2 == 0", "value": 1.6}, "value": 0.8}}},
     "y": {"field": "trend", "type": "quantitative", "scale": {"domain": [735, 1166], "nice": false, "zero": false},
      "axis": {"orient": "left", "title": null, "values": [800, 900, 1000, 1100], "labelExpr": "'' + datum.value", "offset": 26, "domain": false, "tickSize": 4, "tickColor": "#333333", "gridColor": "#FFFFFF", "gridWidth": 1.6, "labelFontSize": 13, "labelColor": "#4D4D4D", "labelPadding": 3, "labelOverlap": false, "labelFlush": false}}
    }}
  ]}
 ], "spacing": 0, "bounds": "flush"},
{"hconcat": [
 {"width": 26, "height": 119, "view": {"fill": "#D9D9D9", "stroke": null}, "data": {"values": [{"label": "seasonal"}]},
  "mark": {"type": "text", "angle": 270, "fontSize": 13, "color": "#1A1A1A"}, "encoding": {"text": {"field": "label", "type": "nominal"}}},
 {"width": 1060, "height": 119, "view": {"fill": "#EBEBEB", "stroke": null},
  "resolve": {"axis": {"y": "independent"}},
  "layer": [
   {"data": {"name": "bars"}, "transform": [{"filter": "datum.panel == 'seasonal'"}],
    "mark": {"type": "rect", "fill": "#BFBFBF", "stroke": "#595959", "strokeWidth": 1},
    "encoding": {"x": {"field": "xmin", "type": "quantitative"}, "x2": {"field": "xmax"},
     "y": {"field": "ymin", "type": "quantitative", "axis": {"orient": "left", "title": null, "values": [-62.5, -37.5, -12.5, 12.5, 37.5], "labels": false, "ticks": false, "domain": false, "gridColor": "#FFFFFF", "gridWidth": 0.8}},
     "y2": {"field": "ymax"}}},
   {"data": {"name": "stl"}, "mark": {"type": "line", "color": "#000000", "strokeWidth": 1.5},
    "encoding": {
     "x": {"field": "week", "type": "quantitative", "scale": {"domain": [-24.38, 503.0], "nice": false, "zero": false},
      "axis": {"title": null, "values": [0, 52.1786, 104.3571, 156.5357, 208.7143, 260.8929, 313.0714, 365.25, 417.4286, 469.6071], "labels": false, "ticks": false, "domain": false, "gridColor": "#FFFFFF", "gridWidth": {"condition": {"test": "round(datum.value / 52.1786) % 2 == 0", "value": 1.6}, "value": 0.8}}},
     "y": {"field": "seasonal", "type": "quantitative", "scale": {"domain": [-79.5, 46.7], "nice": false, "zero": false},
      "axis": {"orient": "left", "title": null, "values": [-75, -50, -25, 0, 25], "labelExpr": "'' + datum.value", "offset": 26, "domain": false, "tickSize": 4, "tickColor": "#333333", "gridColor": "#FFFFFF", "gridWidth": 1.6, "labelFontSize": 13, "labelColor": "#4D4D4D", "labelPadding": 3, "labelOverlap": false, "labelFlush": false}}
    }}
  ]}
 ], "spacing": 0, "bounds": "flush"}
], "spacing": 9.33},
{"hconcat": [
 {"width": 26, "height": 119, "view": {"fill": "#D9D9D9", "stroke": null}, "data": {"values": [{"label": "remainder"}]},
  "mark": {"type": "text", "angle": 270, "fontSize": 13, "color": "#1A1A1A"}, "encoding": {"text": {"field": "label", "type": "nominal"}}},
 {"width": 1060, "height": 119, "view": {"fill": "#EBEBEB", "stroke": null},
  "resolve": {"axis": {"y": "independent"}},
  "layer": [
   {"data": {"name": "bars"}, "transform": [{"filter": "datum.panel == 'remainder'"}],
    "mark": {"type": "rect", "fill": "#BFBFBF", "stroke": "#595959", "strokeWidth": 1},
    "encoding": {"x": {"field": "xmin", "type": "quantitative"}, "x2": {"field": "xmax"},
     "y": {"field": "ymin", "type": "quantitative", "axis": {"orient": "left", "title": null, "values": [-150, -50, 50], "labels": false, "ticks": false, "domain": false, "gridColor": "#FFFFFF", "gridWidth": 0.8}},
     "y2": {"field": "ymax"}}},
   {"data": {"name": "stl"}, "mark": {"type": "rule", "color": "#000000", "strokeWidth": 1.4},
    "encoding": {
     "x": {"field": "week", "type": "quantitative", "scale": {"domain": [-24.38, 503.0], "nice": false, "zero": false},
      "axis": {"title": "Time", "values": [0, 52.1786, 104.3571, 156.5357, 208.7143, 260.8929, 313.0714, 365.25, 417.4286, 469.6071], "labelExpr": "round(datum.value / 52.1786) % 2 == 0 ? '' + (2010 + round(datum.value / 52.1786)) : ''", "domain": false, "ticks": true, "tickSize": 4, "tickColor": "#333333", "tickOpacity": {"condition": {"test": "round(datum.value / 52.1786) % 2 == 0", "value": 1}, "value": 0}, "gridColor": "#FFFFFF", "gridWidth": {"condition": {"test": "round(datum.value / 52.1786) % 2 == 0", "value": 1.6}, "value": 0.8}, "labelFontSize": 13, "labelColor": "#4D4D4D", "labelPadding": 1, "labelOverlap": false, "labelFlush": false, "titleFontSize": 15, "titleFontWeight": "normal", "titleColor": "#000000", "titlePadding": 1}},
     "y": {"field": "remainder", "type": "quantitative", "scale": {"domain": [-200, 120], "nice": false, "zero": false},
      "axis": {"orient": "left", "title": null, "values": [-100, 0, 100], "labelExpr": "'' + datum.value", "offset": 26, "domain": false, "tickSize": 4, "tickColor": "#333333", "gridColor": "#FFFFFF", "gridWidth": 1.6, "labelFontSize": 13, "labelColor": "#4D4D4D", "labelPadding": 3, "labelOverlap": false, "labelFlush": false}},
     "y2": {"datum": 0}
    }},
   {"data": {"values": [{"zero": 0}]}, "mark": {"type": "rule", "color": "#000000", "strokeWidth": 1.4},
    "encoding": {"y": {"field": "zero", "type": "quantitative", "axis": null}}}
  ]}
 ], "spacing": 0, "bounds": "flush"}
]
}
